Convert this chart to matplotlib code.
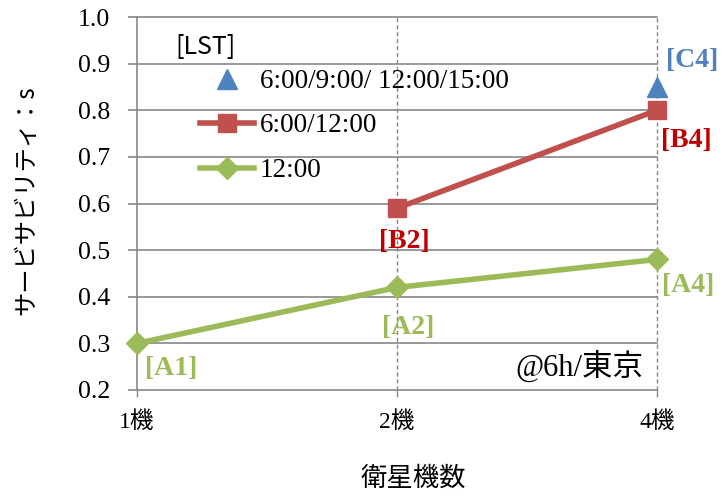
import matplotlib
matplotlib.use("Agg")
import matplotlib.pyplot as plt

# Data
categories = ["1機", "2機", "4機"]
a_values = [0.30, 0.42, 0.48]          # 12:00
b_values = [None, 0.59, 0.80]          # 6:00/12:00
c_values = [None, None, 0.85]          # 6:00/9:00/12:00/15:00
a_labels = ["[A1]", "[A2]", "[A4]"]
b_labels = [None, "[B2]", "[B4]"]
c_labels = [None, None, "[C4]"]
series_names = ["6:00/9:00/ 12:00/15:00", "6:00/12:00", "12:00"]
y_ticks = [0.2, 0.3, 0.4, 0.5, 0.6, 0.7, 0.8, 0.9, 1.0]

GREEN = "#9BBB59"
RED = "#C0504D"
RED_TXT = "#C00000"
BLUE = "#4F81BD"
GRID = "#878787"

SERIF_JP = ["Liberation Serif", "Noto Sans CJK JP"]
SANS_JP = ["Noto Sans CJK JP", "DejaVu Sans"]

fig = plt.figure(figsize=(7.23, 4.97), dpi=100)
ax = fig.add_axes([137 / 723, 1 - 390 / 497, 520 / 723, 373 / 497])

x = list(range(len(categories)))


def pts(vals):
    xs = [i for i, v in zip(x, vals) if v is not None]
    ys = [v for v in vals if v is not None]
    return xs, ys


cx, cy = pts(c_values)
bx, by = pts(b_values)
ax_, ay = pts(a_values)

ax.plot(cx, cy, linestyle="none", marker="^", markersize=15, color=BLUE,
        label=series_names[0], zorder=5, clip_on=False)
ax.plot(bx, by, color=RED, linewidth=4, marker="s", markersize=13,
        label=series_names[1], zorder=4, clip_on=False)
ax.plot(ax_, ay, color=GREEN, linewidth=4, marker="D", markersize=11,
        label=series_names[2], zorder=4, clip_on=False)

# Axis limits and grid
ax.set_xlim(0, 2)
ax.set_ylim(0.2, 1.0)
ax.set_yticks(y_ticks)
ax.set_yticklabels([f"{v:.1f}" for v in y_ticks], family="Liberation Serif",
                   fontsize=18.5)
ax.set_xticks(x)
ax.set_xticklabels(categories, family=SERIF_JP, fontsize=17)

for v in y_ticks:
    ax.axhline(v, color=GRID, linewidth=1.2, zorder=1, clip_on=False)
for xi in x[1:]:
    ax.axvline(xi, color=GRID, linewidth=1.0, linestyle=(0, (3, 2)), zorder=1,
               clip_on=False)

for s in ["top", "right", "bottom"]:
    ax.spines[s].set_visible(False)
ax.spines["left"].set_color(GRID)
ax.spines["left"].set_linewidth(1.2)
ax.tick_params(axis="y", length=6.5, width=1.2, color=GRID, pad=13)
ax.tick_params(axis="x", length=5, width=1.0, color=GRID, pad=10)

ax.set_xlabel("衛星機数", family=SANS_JP, fontsize=19)
ax.xaxis.label.set_va("center")
ax.xaxis.set_label_coords(0.531, -0.236)
ax.set_ylabel("サービサビリティ：s", family=SANS_JP, fontsize=17.5)
ax.yaxis.label.set_va("center")
ax.yaxis.set_label_coords(-0.213, 0.51)


def label_points(vals, labels, offsets, color):
    for xi, v, t, off in zip(x, vals, labels, offsets):
        if v is None or t is None:
            continue
        ax.annotate(t, (xi, v), xytext=off, textcoords="offset pixels",
                    ha="center", va="center", fontsize=20, fontweight="bold",
                    family="Liberation Serif", color=color, zorder=6)


label_points(a_values, a_labels, [(34, -25), (11, -40), (31, -26)], GREEN)
label_points(b_values, b_labels, [None, (7, -33), (29, -30)], RED_TXT)
label_points(c_values, c_labels, [None, None, (35, 26)], BLUE)

ax.text(0.973, 0.062, "@6h/東京", transform=ax.transAxes, ha="right",
        va="center", fontsize=22, family=SERIF_JP)

# Legend title drawn separately so it sits left of the handles
ax.text((175 - 137) / 520, (390 - 47) / 373, "[LST]", transform=ax.transAxes,
        ha="left", va="center", fontsize=18, family=SANS_JP)

leg = ax.legend(loc="upper left", bbox_to_anchor=((200 - 137) / 520, (390 - 69) / 373),
                frameon=False, numpoints=1,
                prop={"family": "Liberation Serif", "size": 19.5},
                handlelength=2.0, handletextpad=0.2, labelspacing=0.72,
                borderpad=0, borderaxespad=0)

fig.savefig("out.png", dpi=100)
